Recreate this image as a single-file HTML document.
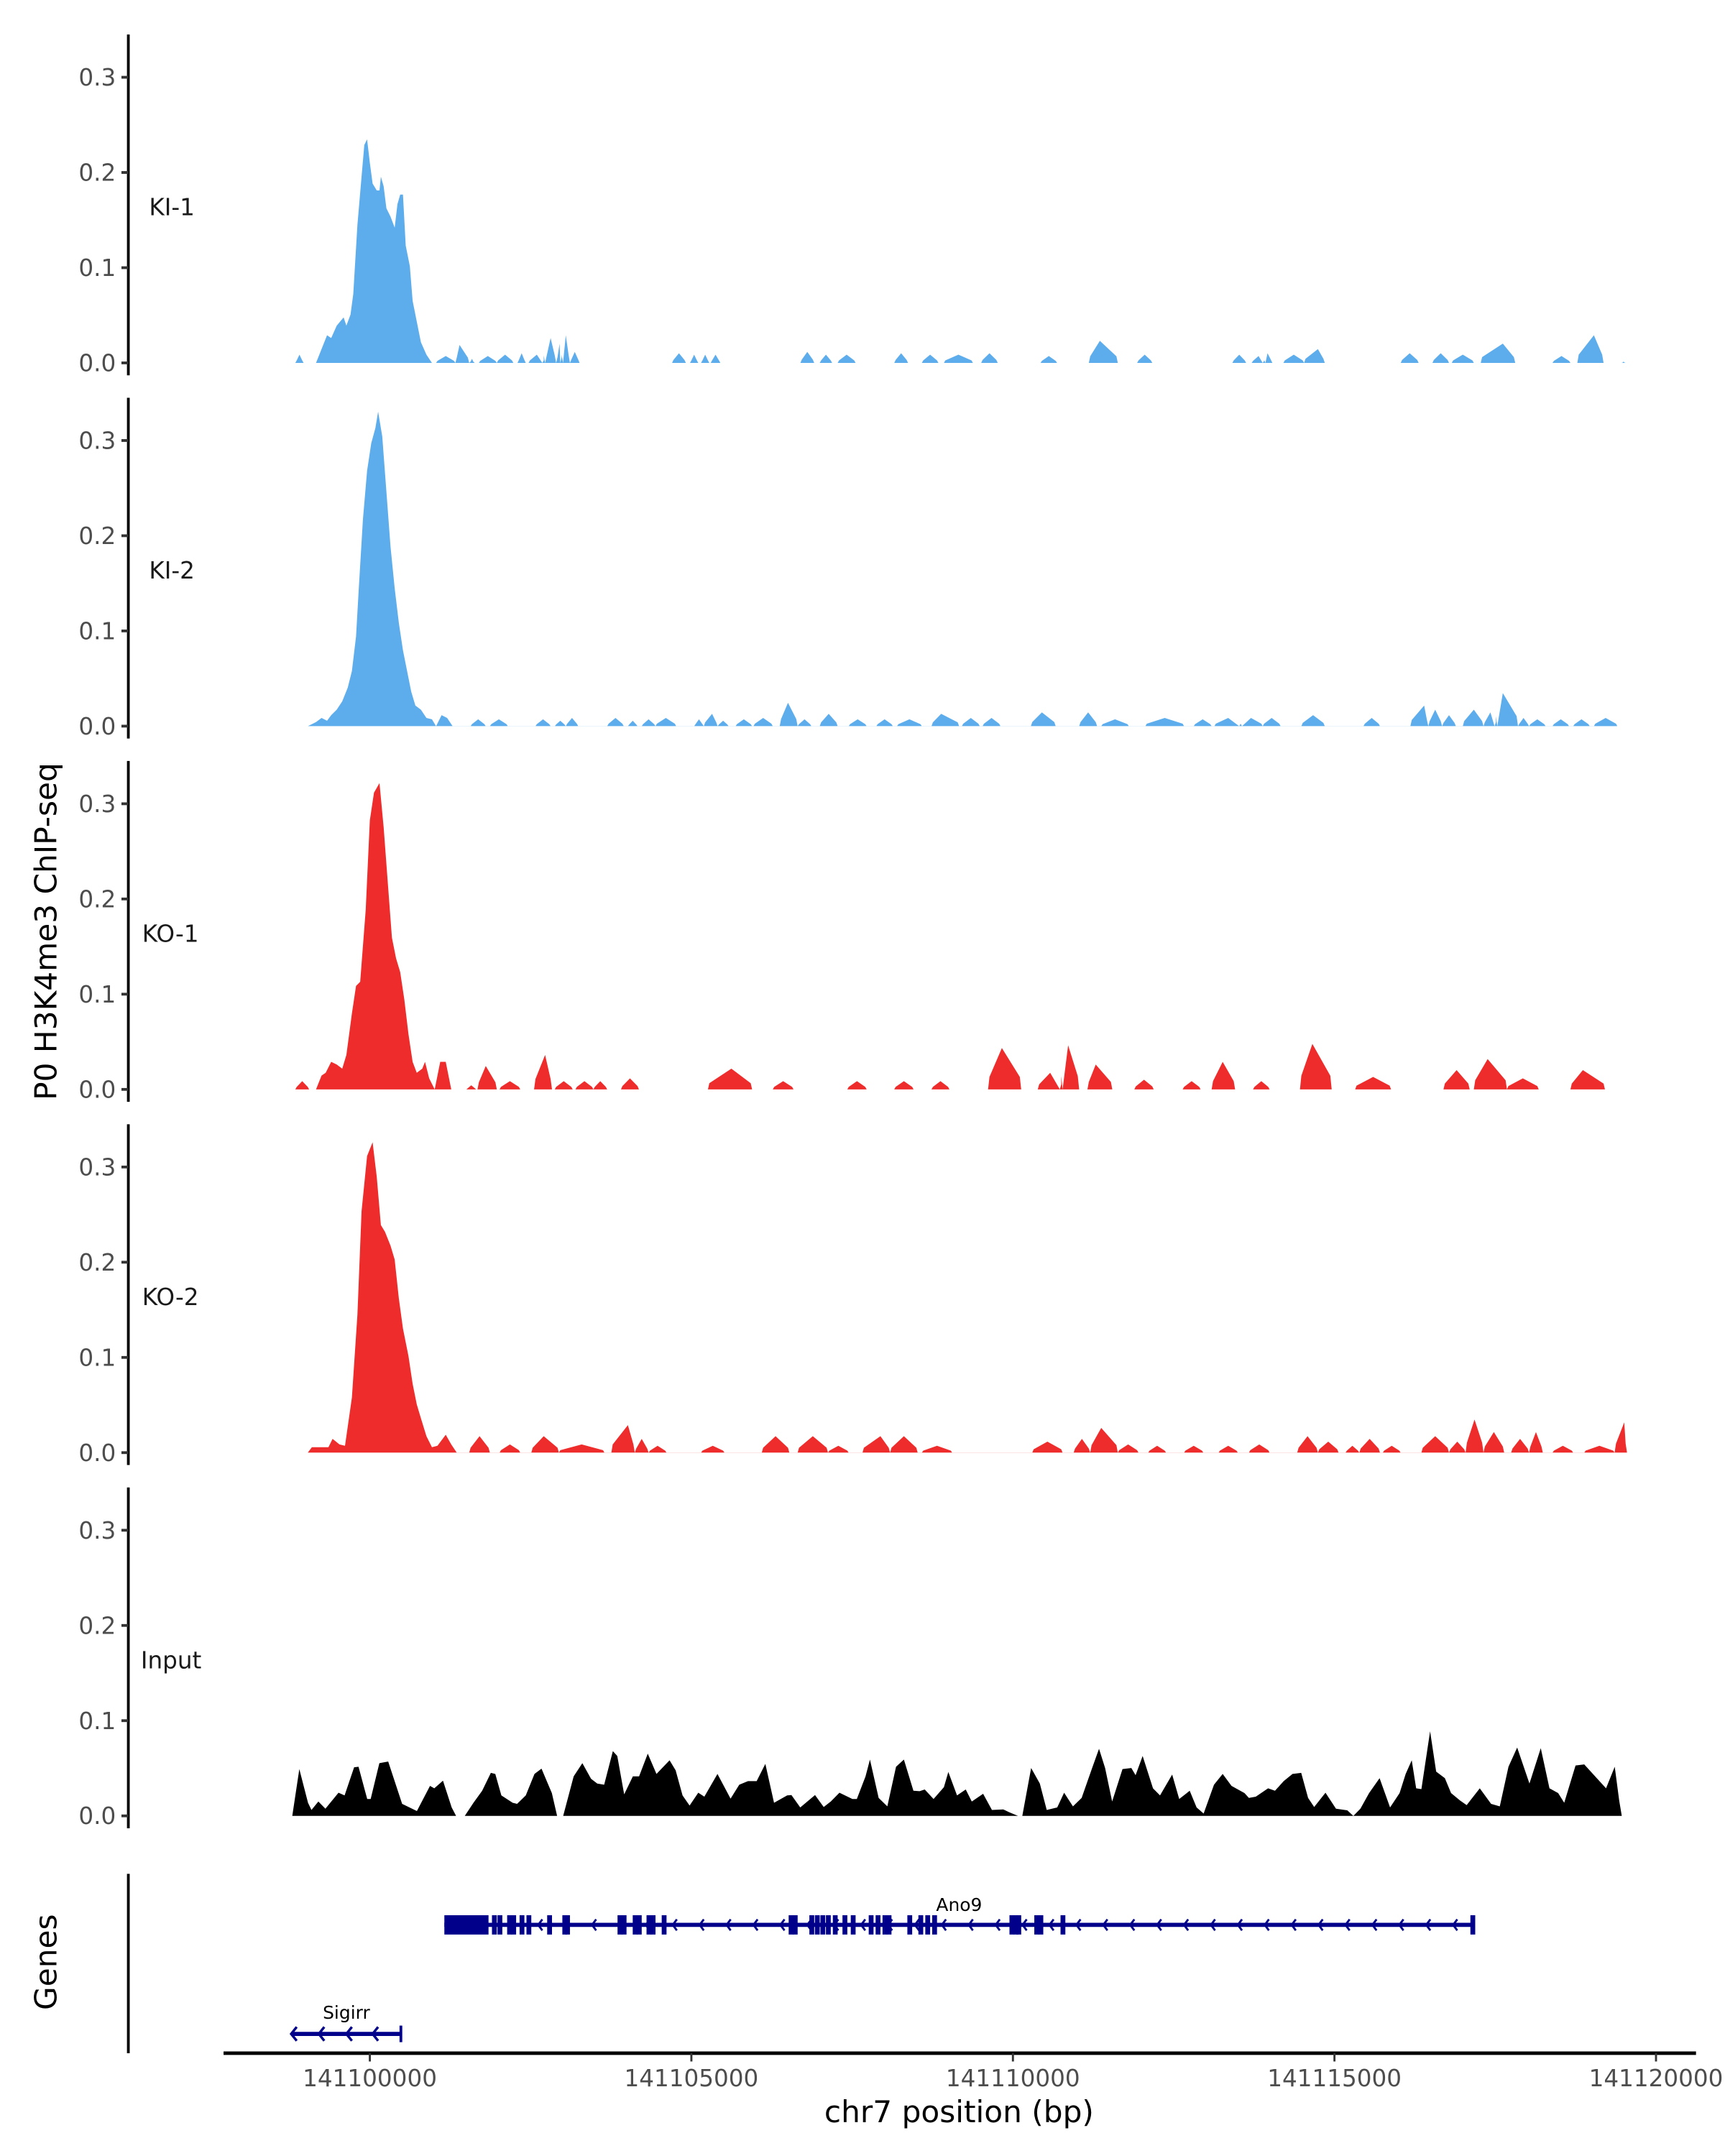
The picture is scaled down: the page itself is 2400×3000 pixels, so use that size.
<!DOCTYPE html>
<html><head><meta charset="utf-8">
<style>html,body{margin:0;padding:0;background:#fff}svg{display:block}</style>
</head><body>
<svg id="s" xmlns="http://www.w3.org/2000/svg" width="2400" height="3000" viewBox="0 0 1250 1562.5" font-family="DejaVu Sans, Liberation Sans, sans-serif">
<rect width="1250" height="1562.5" fill="#fff"/>
<g id="g"></g>
</svg>
<script>
var g=document.getElementById('g');var NS='http://www.w3.org/2000/svg';
function el(t,a,txt){var e=document.createElementNS(NS,t);for(var k in a)e.setAttribute(k,a[k]);if(txt)e.textContent=txt;g.appendChild(e);return e;}
function B(x0,x1,h,px){var m=px||(x0+x1)/2;return [[x0,0],[x0+1,h*0.3],[m,h],[x1-1,h*0.3],[x1,0]];}
function area(z,pts,col){pts.sort(function(a,b){return a[0]-b[0]});var d='M'+pts[0][0]+' '+z;pts.forEach(function(p){d+=' L'+p[0].toFixed(1)+' '+(z-p[1]).toFixed(1);});d+=' L'+pts[pts.length-1][0]+' '+z+' Z';el('path',{d:d,fill:col});}
function cat(main,bumps){var a=main.slice();bumps.forEach(function(b){a=a.concat(B(b[0],b[1],b[2],b[3]));});return a;}
var names=['KI-1','KI-2','KO-1','KO-2','Input'];
for(var i=0;i<5;i++){var z=263+263.25*i;
 el('line',{x1:93,x2:93,y1:z-238,y2:z+9,stroke:'#000','stroke-width':2});
 for(var t=0;t<4;t++){var y=z-69*t;el('line',{x1:88,x2:93,y1:y,y2:y,stroke:'#333','stroke-width':2});
  el('text',{x:84,y:y+6,'text-anchor':'end','font-size':17,fill:'#4d4d4d'},'0.'+t);}
 el('text',{x:[108,108,103,103,102][i],y:z-107,'font-size':17,fill:'#1a1a1a'},names[i]);
}
// KI-1
var z0=263;
area(z0,cat([[229,0],[233,10],[237,20],[240,18],[244,27],[249,33],[251,27],[254,35],[256,50],[259,100],[262,135],[264,158],[266,162],[268,145],[270,130],[273,125],[275,125],[276,135],[278,128],[280,112],[283,106],[286,98],[288,115],[290,122],[292,122],[294,85],[297,70],[299,45],[302,30],[305,15],[309,6],[313,0]],
[[214,220,6],[316,330,5],[330,340,13,333],[340,344,3],[347,360,5],[360,372,6],[375,381,7],[383,395,6],[393,403,18,399],[403,408,14],[406,413,20,410],[413,420,8],[487,497,7],[500,506,6],[508,514,6],[515,522,6],[580,590,8],[594,603,6],[607,620,6],[648,658,7],[668,680,6],[684,705,6],[711,723,7],[754,766,5],[789,810,16,797],[824,835,6],[893,903,6],[907,917,5],[915,922,7],[930,945,6],[945,960,10,955],[1015,1028,7],[1038,1050,7],[1052,1068,6],[1073,1098,14,1089],[1125,1138,5],[1143,1162,20,1155],[1175,1178,1]]),'#5DADEC');
// KI-2
z0=526.25;
area(z0,cat([[223,0],[229,3],[233,6],[237,4],[240,8],[244,12],[248,18],[252,28],[255,40],[258,65],[260,100],[263,150],[266,185],[269,205],[272,216],[274,228],[277,210],[280,170],[283,130],[286,100],[289,75],[292,55],[295,40],[298,25],[301,15],[305,12],[309,6],[313,5],[316,0],[320,8],[324,6],[328,0]],
[[341,352,5],[355,368,5],[388,399,5],[402,410,4],[410,419,6],[440,452,6],[455,462,4],[465,475,5],[475,490,6],[503,510,5],[510,520,9,516],[520,528,4],[533,545,5],[546,560,6],[565,578,17,571],[578,588,5],[594,607,9],[615,628,5],[635,647,5],[650,668,5],[675,695,9,682],[697,710,6],[712,725,6],[747,765,10,755],[782,795,10],[798,818,5],[830,858,6],[865,878,5],[880,900,6],[898,915,6],[915,928,6],[943,960,8],[988,1000,6],[1022,1035,15,1032],[1035,1045,12],[1045,1055,8],[1060,1075,12,1068],[1075,1085,10],[1083,1100,24,1089],[1100,1108,6],[1108,1120,5],[1125,1137,5],[1140,1152,5],[1155,1172,6]]),'#5DADEC');
// KO-1
z0=789.5;
area(z0,cat([[229,0],[233,10],[236,12],[240,20],[244,18],[248,15],[251,25],[255,55],[258,75],[261,78],[265,130],[268,195],[271,215],[275,222],[278,190],[281,150],[284,110],[287,95],[290,85],[293,65],[296,40],[299,20],[302,12],[306,15],[308,20],[311,8],[315,0],[319,20],[323,20],[327,0]],
[[214,224,6],[338,345,3],[346,360,17,352],[362,377,6],[387,400,25,395],[402,415,6],[417,430,6],[430,440,6],[450,463,8],[513,545,15,530],[560,575,6],[614,628,6],[648,662,6],[675,688,6],[716,740,30,726],[752,770,12],[768,782,32,774],[788,806,18,794],[822,836,7],[857,870,6],[878,895,20,886],[908,920,6],[942,965,33,951],[982,1008,9],[1046,1065,14],[1068,1092,22,1078],[1092,1115,8],[1138,1163,14,1147]]),'#EE2C2C');
// KO-2
z0=1052.75;
area(z0,cat([[223,0],[226,4],[238,4],[241,10],[246,6],[250,5],[255,40],[259,100],[262,175],[266,215],[270,225],[273,200],[276,165],[279,160],[283,150],[286,140],[289,112],[292,90],[296,70],[299,50],[302,35],[305,25],[309,12],[313,4],[317,5],[323,13],[327,6],[331,0]],
[[340,355,12],[362,377,6],[385,405,12,394],[405,438,6],[443,460,20,455],[460,470,10],[470,483,5],[508,525,5],[552,572,12],[578,600,12],[600,615,5],[625,645,12,638],[645,665,12],[668,690,5],[748,770,8],[778,790,10],[790,810,18,798],[810,825,6],[832,845,5],[858,872,5],[883,897,5],[905,920,6],[940,955,12],[955,970,8],[975,985,5],[985,1000,10],[1002,1015,5],[1030,1050,12],[1050,1062,8],[1062,1075,24],[1075,1090,15],[1095,1108,10],[1108,1118,15],[1125,1140,5],[1148,1170,5],[1170,1179,22,1177]]),'#EE2C2C');
// Input
var zp=[[22,415],[30,220],[40,360],[44,390],[52,355],[60,385],[75,318],[82,330],[93,212],[98,210],[108,345],[112,345],[122,195],[132,188],[148,365],[165,395],[180,290],[185,300],[195,268],[205,380],[210,415],[220,415],[230,360],[240,310],[250,235],[255,240],[262,330],[275,360],[280,365],[290,330],[300,240],[308,218],[320,320],[326,415],[333,415],[345,250],[355,195],[365,260],[372,280],[380,285],[390,145],[395,165],[403,325],[413,250],[420,250],[430,155],[440,240],[455,183],[462,225],[470,330],[478,372],[488,318],[495,335],[510,240],[525,343],[535,285],[545,270],[555,270],[565,198],[575,360],[590,330],[595,328],[605,380],[622,328],[632,378],[640,355],[650,318],[665,345],[670,345],[680,250],[685,180],[695,340],[705,375],[715,210],[724,180],[735,310],[742,312],[748,305],[758,345],[770,295],[775,232],[785,330],[795,305],[802,355],[815,323],[825,390],[838,388],[845,400],[855,415],[860,415],[870,215],[880,280],[888,390],[900,380],[908,318],[918,375],[928,340],[940,215],[948,135],[955,215],[963,355],[975,220],[985,215],[990,245],[998,165],[1010,300],[1018,330],[1032,243],[1040,345],[1052,310],[1060,380],[1068,405],[1080,285],[1090,240],[1100,290],[1115,320],[1120,340],[1128,335],[1142,300],[1150,310],[1160,270],[1170,240],[1180,235],[1188,340],[1195,378],[1208,318],[1220,385],[1233,392],[1240,415],[1248,385],[1258,320],[1270,258],[1282,380],[1293,320],[1300,240],[1307,183],[1312,300],[1318,303],[1328,62],[1335,230],[1345,258],[1352,320],[1362,350],[1370,370],[1385,300],[1398,365],[1408,375],[1418,210],[1428,130],[1442,280],[1455,132],[1465,300],[1475,320],[1482,360],[1495,205],[1505,200],[1520,260],[1530,300],[1540,210],[1545,350],[1548,415]];
area(1316,zp.map(function(p){return [(380+p[0]/0.825)/1.92,(415-p[1])/5.76];}),'#000');
// Genes panel
el('line',{x1:93,x2:93,y1:1358,y2:1488,stroke:'#000','stroke-width':2});
el('line',{x1:162,x2:1229,y1:1488,y2:1488,stroke:'#000','stroke-width':2.5});
var ticks=['141100000','141105000','141110000','141115000','141120000'];
for(var k=0;k<5;k++){var x=268+233*k;el('line',{x1:x,x2:x,y1:1488,y2:1494,stroke:'#333','stroke-width':1.5});
 el('text',{x:x,y:1512,'text-anchor':'middle','font-size':17,fill:'#4d4d4d'},ticks[k]);}
el('text',{x:695,y:1538,'text-anchor':'middle','font-size':22,fill:'#000'},'chr7 position (bp)');
el('text',{x:0,y:0,'text-anchor':'middle','font-size':22,fill:'#000',transform:'translate(41,675) rotate(-90)'},'P0 H3K4me3 ChIP-seq');
el('text',{x:0,y:0,'text-anchor':'middle','font-size':22,fill:'#000',transform:'translate(41,1422) rotate(-90)'},'Genes');
var C='#00008B';
// Ano9
var gy=1395;
el('line',{x1:322,x2:1068,y1:gy,y2:gy,stroke:C,'stroke-width':3});
el('rect',{x:322,y:gy-7,width:32,height:14,fill:C});
[358,362,369,372,378,383,398,409,411,449,452,460,463,470,473,481,573,576,588,592,596,600,605,612,618,631,636,641,644,659,667,672,677,733,736,738,751,754,770,1067].forEach(function(x){el('rect',{x:x-1.5,y:gy-7,width:3.5,height:14,fill:C});});
for(var x=390;x<1065;x+=19.5){el('path',{d:'M'+(x+3)+' '+(gy-4)+' L'+x+' '+gy+' L'+(x+3)+' '+(gy+4),stroke:C,'stroke-width':1.5,fill:'none'});}
el('text',{x:695,y:1385,'text-anchor':'middle','font-size':13,fill:'#000'},'Ano9');
// Sigirr
var sy=1474;
el('line',{x1:211,x2:291,y1:sy,y2:sy,stroke:C,'stroke-width':3});
el('rect',{x:289.5,y:sy-6,width:2,height:12,fill:C});
[211,231,251,270].forEach(function(x){el('path',{d:'M'+(x+4)+' '+(sy-5)+' L'+x+' '+sy+' L'+(x+4)+' '+(sy+5),stroke:C,'stroke-width':1.8,fill:'none'});});
el('text',{x:251,y:1463,'text-anchor':'middle','font-size':13,fill:'#000'},'Sigirr');
</script>
</body></html>
